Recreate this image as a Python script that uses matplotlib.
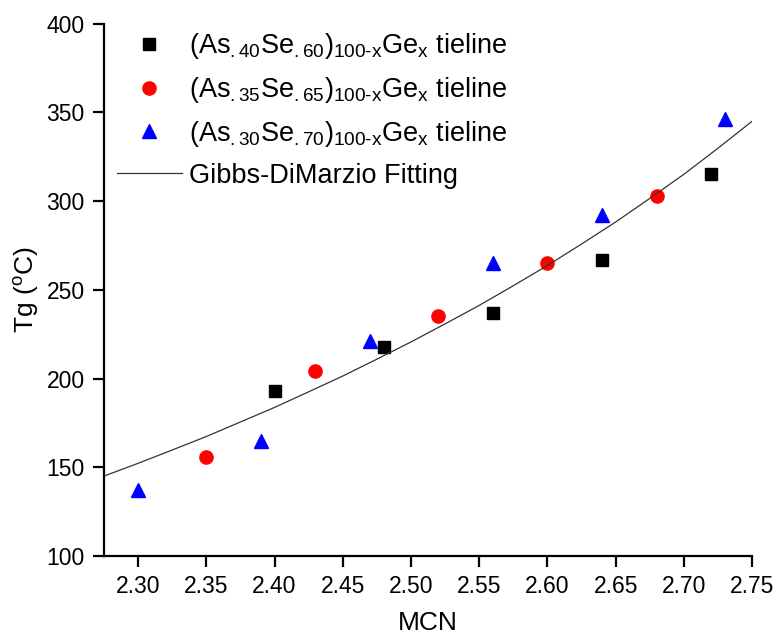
import matplotlib
matplotlib.use("Agg")
import matplotlib.pyplot as plt

plt.rcParams['font.family'] = ['Liberation Sans', 'DejaVu Sans']
plt.rcParams['mathtext.fontset'] = 'custom'
plt.rcParams['mathtext.rm'] = 'Liberation Sans'
plt.rcParams['mathtext.it'] = 'Liberation Sans'
plt.rcParams['mathtext.bf'] = 'Liberation Sans:bold'

# (As.40Se.60)100-xGex
mcn_40 = [2.40, 2.48, 2.56, 2.64, 2.72]
tg_40 = [193, 218, 237, 267, 315]
# (As.35Se.65)100-xGex
mcn_35 = [2.35, 2.43, 2.52, 2.60, 2.68]
tg_35 = [156, 204, 235, 265, 303]
# (As.30Se.70)100-xGex
mcn_30 = [2.30, 2.39, 2.47, 2.56, 2.64, 2.73]
tg_30 = [137, 165, 221, 265, 292, 346]

# fitting curve
fit_mcn = [2.275, 2.30, 2.325, 2.35, 2.375, 2.40, 2.425, 2.45, 2.475, 2.50,
           2.525, 2.55, 2.575, 2.60, 2.625, 2.65, 2.675, 2.70, 2.725, 2.75]
fit_tg = [145.0, 152.2, 159.7, 167.3, 175.5, 183.7, 192.5, 201.4, 210.9, 220.6,
          230.8, 241.2, 252.3, 263.7, 275.8, 288.2, 301.5, 315.1, 329.8, 345.0]

fig = plt.figure(figsize=(7.79, 6.39), dpi=100)
ax = fig.add_axes([0.1335, 0.130, 0.832, 0.833])

ax.plot(mcn_40, tg_40, 's', color='black', ms=8.5, ls='none',
        label=r'(As$_{.40}$Se$_{.60}$)$_{100\text{-}x}$Ge$_{x}$ tieline')
ax.plot(mcn_35, tg_35, 'o', color='#ff0000', ms=9.5, ls='none',
        label=r'(As$_{.35}$Se$_{.65}$)$_{100\text{-}x}$Ge$_{x}$ tieline')
ax.plot(mcn_30, tg_30, '^', color='#0000ff', ms=10.5, ls='none',
        label=r'(As$_{.30}$Se$_{.70}$)$_{100\text{-}x}$Ge$_{x}$ tieline')
ax.plot(fit_mcn, fit_tg, '-', color='#333333', lw=0.9,
        label='Gibbs-DiMarzio Fitting')

ax.set_xlim(2.275, 2.75)
ax.set_ylim(100, 400)
ax.set_xticks([2.30, 2.35, 2.40, 2.45, 2.50, 2.55, 2.60, 2.65, 2.70, 2.75])
ax.set_xticklabels(['%.2f' % t for t in ax.get_xticks()])
ax.set_yticks(range(100, 401, 50))

for s in ['top', 'right']:
    ax.spines[s].set_visible(False)
for s in ['left', 'bottom']:
    ax.spines[s].set_linewidth(1.6)
ax.tick_params(direction='out', length=8, width=1.6, labelsize=16.5, pad=6)

ax.set_xlabel('MCN', fontsize=19, labelpad=9)
ax.set_ylabel(r'Tg ($^{\mathregular{o}}$C)', fontsize=19, labelpad=4)

ax.legend(loc='upper left', bbox_to_anchor=(0.003, 1.006), frameon=False,
          fontsize=19.5, numpoints=1, handlelength=2.4, handletextpad=0.25,
          labelspacing=0.51, borderaxespad=0.0, borderpad=0.4)

fig.savefig('out.png', dpi=100)
